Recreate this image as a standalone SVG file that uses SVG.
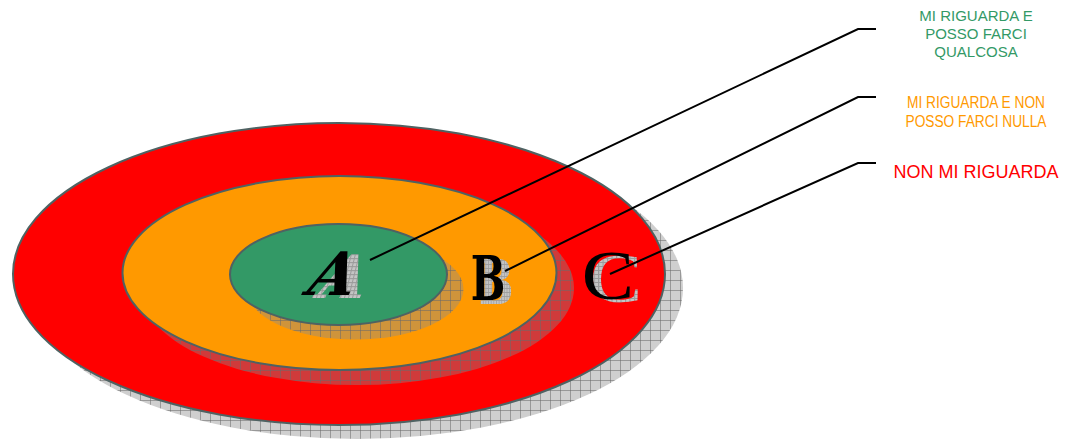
<svg xmlns="http://www.w3.org/2000/svg" width="1071" height="439" viewBox="0 0 1071 439">
<defs>
<pattern id="hatch" width="10" height="10" patternUnits="userSpaceOnUse">
<rect width="10" height="10" fill="#8c8c8c" fill-opacity="0.42"/>
<path d="M0 0.5H10M0.5 0V10" stroke="#6a6a6a" stroke-opacity="0.55" stroke-width="1"/>
</pattern>
<pattern id="hatchText" width="4" height="4" patternUnits="userSpaceOnUse">
<rect width="4" height="4" fill="#c4c4c4"/>
<path d="M0 0.5H4M0.5 0V4" stroke="#9a9a9a" stroke-width="1"/>
</pattern>
<style>
.ring{stroke:#4f6262;stroke-width:2}
.shadow{fill:url(#hatch);stroke:none}
.lbl{font-family:"Liberation Sans",Arial,sans-serif;text-anchor:middle}
.lead{fill:none;stroke:#000;stroke-width:2}
.tshadow{fill:url(#hatchText)}
.slab{font-family:"DejaVu Serif",serif;font-weight:bold;text-anchor:middle}
.times{font-family:"Liberation Serif","Times New Roman",serif;text-anchor:middle}
</style>
</defs>
<rect width="1071" height="439" fill="#fff"/>
<g id="ring-c">
<ellipse class="shadow" cx="357" cy="288" rx="326" ry="151"/>
<ellipse class="ring" cx="339" cy="274" rx="326" ry="151" fill="#ff0000"/>
</g>
<g id="ring-b">
<ellipse class="shadow" cx="357" cy="288" rx="217" ry="97"/>
<ellipse class="ring" cx="339.5" cy="273" rx="217" ry="97" fill="#ff9900"/>
</g>
<g id="ring-a">
<ellipse class="shadow" cx="355" cy="289" rx="108.5" ry="50.5"/>
<ellipse class="ring" cx="338.5" cy="274.5" rx="108.5" ry="50.5" fill="#339966"/>
</g>
<g id="letter-a">
<text class="slab tshadow" transform="translate(340 298) skewX(-14)" font-style="italic" font-size="60">A</text>
<text class="slab" transform="translate(329 295) skewX(-14)" font-style="italic" font-size="60" fill="#000">A</text>
</g>
<g id="letter-b">
<text class="slab tshadow" transform="translate(496 304) scale(0.66 1)" font-size="62">B</text>
<text class="slab" transform="translate(488 300) scale(0.66 1)" font-size="62" fill="#000">B</text>
</g>
<g id="letter-c">
<text class="times tshadow" transform="translate(616 302) scale(1.12 1)" font-size="70">C</text>
<text class="times" transform="translate(608 299) scale(1.12 1)" font-size="70" fill="#000">C</text>
</g>
<g id="connectors">
<polyline class="lead" points="370,260 858,29 876,29"/>
<polyline class="lead" points="505,271 858,97 876,97"/>
<polyline class="lead" points="610,274 858,163 876,163"/>
</g>
<g id="label-a" class="lbl" fill="#339966" font-size="15">
<text x="976" y="21">MI RIGUARDA E</text>
<text x="976" y="39">POSSO FARCI</text>
<text x="976" y="57">QUALCOSA</text>
</g>
<g id="label-b" class="lbl" fill="#ff9900" font-size="16">
<text x="976" y="108" textLength="138" lengthAdjust="spacingAndGlyphs">MI RIGUARDA E NON</text>
<text x="976" y="127" textLength="141" lengthAdjust="spacingAndGlyphs">POSSO FARCI NULLA</text>
</g>
<g id="label-c" class="lbl" fill="#ff0000" font-size="18">
<text x="976" y="178">NON MI RIGUARDA</text>
</g>
</svg>
